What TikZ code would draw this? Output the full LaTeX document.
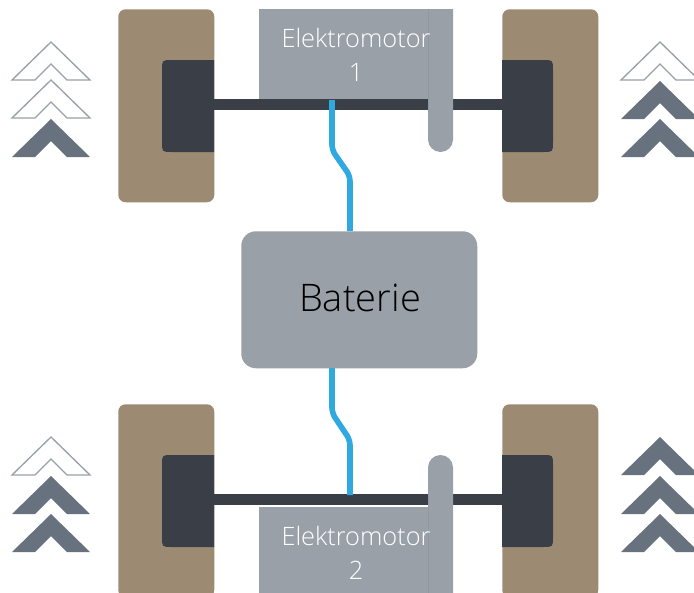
\documentclass[tikz,border=0pt]{standalone}
\usepackage{fontspec}
\setmainfont{Open Sans}[UprightFont={* Light}]
\definecolor{wheelc}{HTML}{9C8B72}
\definecolor{hubc}{HTML}{3A3F47}
\definecolor{motorc}{HTML}{9AA0A8}
\definecolor{blinec}{HTML}{2FA9DF}
\definecolor{chevc}{HTML}{68727F}
\tikzset{
  wheelbox/.style={fill=wheelc,rounded corners=5.5pt,inner sep=0,minimum width=72pt,minimum height=144.75pt,anchor=north west},
  hubfill/.style={fill=hubc},
  axlebar/.style={fill=hubc,inner sep=0,minimum height=8.25pt,anchor=north west},
  motorbox/.style={fill=motorc,inner sep=0,anchor=north west},
  gearbar/.style={fill=motorc},
  gearedge/.style={draw=motorc!95!black,line width=.4pt},
  batbox/.style={fill=motorc,rounded corners=11pt,inner sep=0,minimum width=177pt,minimum height=102.75pt,anchor=north west},
  wirepath/.style={draw=blinec,line width=4.2pt,rounded corners=4pt},
  chevopen/.style={fill=white,draw=motorc,line width=1pt,line join=miter},
  chevfull/.style={fill=chevc},
  mlabel/.style={text=white,font=\fontsize{19pt}{23pt}\selectfont,inner sep=0},
  blabel/.style={text=black,font=\fontsize{28.5pt}{34pt}\selectfont,inner sep=0}
}
\newcommand{\chev}[3]{\path[#3] (#1-39,#2+38) -- (#1,#2) -- (#1+39,#2+38) -- (#1+16,#2+38) -- (#1,#2+22) -- (#1-16,#2+38) -- cycle;}
% hub: #1 wheel-side x, #2 far x, #3 x one radius in from far side, #4 top y
\newcommand{\hub}[4]{\path[hubfill] (#1,#4) -- (#3,#4) .. controls (#2,#4) and (#2,#4) .. (#2,#4+10) -- (#2,#4+82) .. controls (#2,#4+92) and (#2,#4+92) .. (#3,#4+92) -- (#1,#4+92) -- cycle;}
\begin{document}
\begin{tikzpicture}[x=0.75pt,y=-0.75pt]
\useasboundingbox (0,0) rectangle (694,593);
\clip (0,0) rectangle (694,593);
% wheels
\node[wheelbox] (wtl) at (118,9) {};
\node[wheelbox] (wtr) at (502,9) {};
\node[wheelbox] (wbl) at (118,404) {};
\node[wheelbox] (wbr) at (502,404) {};
% hubs
\hub{214}{162}{172}{60}
\hub{502}{553}{543}{60}
\hub{214}{162}{172}{455}
\hub{502}{553}{543}{455}
% motors
\node[motorbox,minimum width=145.5pt,minimum height=68.25pt] (m1) at (259,9) {};
\node[motorbox,minimum width=145.5pt,minimum height=64.5pt] (m2) at (259,507) {};
% axles
\node[axlebar,minimum width=216pt] (a1) at (214,99) {};
\node[axlebar,minimum width=216pt] (a2) at (214,494) {};
% gear bars
\path[gearbar] (428,9) -- (453,9) -- (453,139.5) arc[start angle=0,end angle=180,radius=12.5] -- cycle;
\path[gearbar] (428,593) -- (453,593) -- (453,467.5) arc[start angle=0,end angle=-180,radius=12.5] -- cycle;
\draw[gearedge] (428,9) -- (428,110);
\draw[gearedge] (428,494) -- (428,593);
% battery
\node[batbox] (bat) at (241,231) {};
\node[blabel] (batlabel) at (360,298) {Baterie};
% wires
\coordinate (w1a) at (332,100);
\coordinate (w1b) at (350,231);
\coordinate (w2a) at (332,368);
\coordinate (w2b) at (350,495);
\path[wirepath] (w1a) -- (332,150) -- (350,176) -- (w1b);
\path[wirepath] (w2a) -- (332,413) -- (350,440) -- (w2b);
% labels
\node[mlabel] (l1) at (356,38) {Elektromotor};
\node[mlabel] (l1b) at (356,72) {1};
\node[mlabel] (l2) at (356,536) {Elektromotor};
\node[mlabel] (l2b) at (356,570) {2};
% chevrons
\chev{51}{42}{chevopen}
\chev{51}{80}{chevopen}
\chev{51}{119}{chevfull}
\chev{660}{42}{chevopen}
\chev{660}{81}{chevfull}
\chev{660}{119}{chevfull}
\chev{51}{437}{chevopen}
\chev{51}{476}{chevfull}
\chev{51}{514}{chevfull}
\chev{660}{437}{chevfull}
\chev{660}{476}{chevfull}
\chev{660}{514}{chevfull}
\end{tikzpicture}
\end{document}
